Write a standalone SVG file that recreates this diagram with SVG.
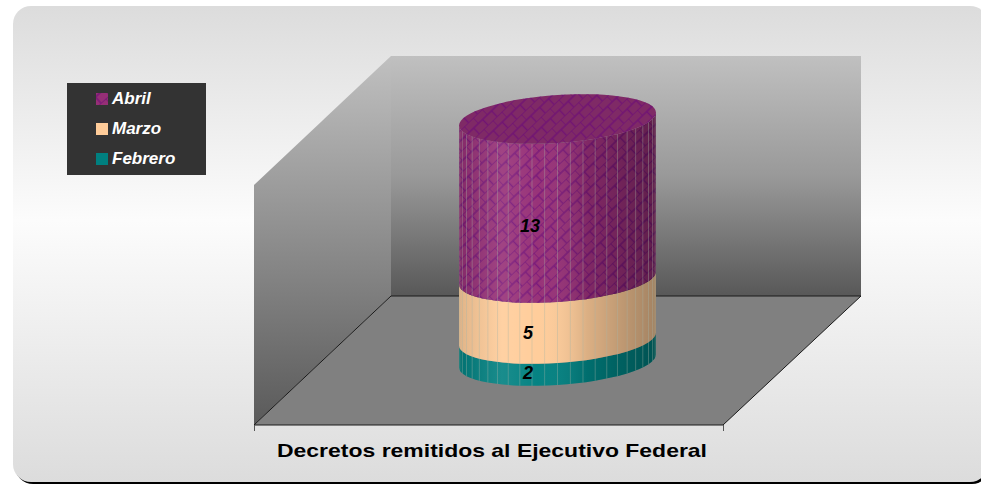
<svg xmlns="http://www.w3.org/2000/svg" width="981" height="485" viewBox="0 0 981 485">
<style>
.lg{font-family:"Liberation Sans",Arial,sans-serif;font-weight:bold;font-style:italic;font-size:17px;fill:#ffffff}
.val{font-family:"Liberation Sans",Arial,sans-serif;font-weight:bold;font-style:italic;font-size:18px;fill:#000000;text-anchor:middle}
.title{font-family:"Liberation Sans",Arial,sans-serif;font-weight:bold;font-size:19px;fill:#000000}
.edge{stroke:#1a1a1a;stroke-width:1;fill:none}
</style>
<defs>
<linearGradient id="bg" x1="0" y1="0" x2="0" y2="1">
<stop offset="0" stop-color="#dcdcdc"/>
<stop offset="0.45" stop-color="#fcfcfc"/>
<stop offset="1" stop-color="#dcdcdc"/>
</linearGradient>
<linearGradient id="wall" gradientUnits="userSpaceOnUse" x1="0" y1="56" x2="0" y2="296">
<stop offset="0" stop-color="#c0c0c0"/>
<stop offset="0.5" stop-color="#999999"/>
<stop offset="1" stop-color="#585858"/>
</linearGradient>
<linearGradient id="lwall" gradientUnits="userSpaceOnUse" x1="0" y1="56" x2="0" y2="425">
<stop offset="0" stop-color="#c0c0c0"/>
<stop offset="1" stop-color="#5a5a5a"/>
</linearGradient>
<linearGradient id="shade" gradientUnits="userSpaceOnUse" x1="459" y1="0" x2="656" y2="0">
<stop offset="0" stop-color="#000" stop-opacity="0.12"/>
<stop offset="0.22" stop-color="#fff" stop-opacity="0.1"/>
<stop offset="0.4" stop-color="#fff" stop-opacity="0.02"/>
<stop offset="0.65" stop-color="#000" stop-opacity="0.14"/>
<stop offset="1" stop-color="#000" stop-opacity="0.36"/>
</linearGradient>
<pattern id="brick" width="12" height="16" patternUnits="userSpaceOnUse" patternTransform="rotate(-42)">
<path d="M0 0H12M0 8H12M0 0V8M6 8V16" stroke="#6c0c78" stroke-width="1.4" stroke-opacity="0.75" fill="none"/>
</pattern>
<clipPath id="lowclip"><rect x="0" y="300" width="981" height="185"/></clipPath>
</defs>

<g id="background">
<rect x="15" y="8" width="975" height="476" rx="18" fill="#000" clip-path="url(#lowclip)"/>
<rect x="13" y="6" width="975" height="476" rx="18" fill="url(#bg)"/>
</g>

<g id="plot-area">
<polygon points="391,56 861,56 861,296 391,296" fill="url(#wall)"/>
<polygon points="254,185 391,56 391,296 254,425" fill="url(#lwall)"/>
<polygon points="254,425 391,296 861,296 723,425" fill="#808080"/>
<path class="edge" d="M254 425L391 296H861L723 425Z"/>
<path d="M254.5 425V431M723.5 425V431" stroke="#555" stroke-width="1"/>
</g>

<g id="cylinder" transform="matrix(1 -0.066 0 1 0 36.8)">
<g id="series-febrero">
<path d="M459 339V361A98.5 24 0 0 0 656 361V339A98.5 24 0 0 1 459 339Z" fill="#008080"/>
</g>
<g id="series-marzo">
<path d="M459 278V339A98.5 24 0 0 0 656 339V278A98.5 24 0 0 1 459 278Z" fill="#ffcc99"/>
</g>
<g id="series-abril">
<path d="M459 119V278A98.5 24 0 0 0 656 278V119A98.5 24 0 0 1 459 119Z" fill="#962f76"/>
<path d="M459 119V278A98.5 24 0 0 0 656 278V119A98.5 24 0 0 1 459 119Z" fill="url(#brick)"/>
</g>
<path d="M459 119V361A98.5 24 0 0 0 656 361V119A98.5 24 0 0 1 459 119Z" fill="url(#shade)"/>
<path d="M459.84 122.13v242M462.36 125.21v242M466.5 128.18v242M472.2 131v242M479.35 133.61v242M487.85 135.97v242M497.54 138.04v242M508.25 139.78v242M519.81 141.17v242M532.01 142.18v242M544.64 142.79v242M557.5 143v242M570.36 142.79v242M582.99 142.18v242M595.19 141.17v242M606.75 139.78v242M617.46 138.04v242M627.15 135.97v242M635.65 133.61v242M642.8 131v242M648.5 128.18v242M652.64 125.21v242M655.16 122.13v242" stroke="#a8b4a8" stroke-width="0.8" stroke-opacity="0.45" fill="none"/>
<g id="top-face">
<ellipse cx="557.5" cy="119" rx="98.5" ry="24" fill="#7f2a66"/>
<ellipse cx="557.5" cy="119" rx="98.5" ry="24" fill="url(#brick)"/>
</g>
</g>

<g id="data-labels">
<text class="val" x="530" y="232">13</text>
<text class="val" x="528" y="339">5</text>
<text class="val" x="528" y="379">2</text>
</g>

<g id="legend">
<rect x="67" y="83" width="139" height="92" fill="#333333"/>
<rect x="96" y="93" width="12" height="12" fill="#962f76"/>
<rect x="96" y="93" width="12" height="12" fill="url(#brick)"/>
<text class="lg" x="112" y="104">Abril</text>
<rect x="96" y="123" width="12" height="12" fill="#ffcc99"/>
<text class="lg" x="112" y="134">Marzo</text>
<rect x="96" y="153" width="12" height="12" fill="#008080"/>
<text class="lg" x="112" y="164">Febrero</text>
</g>

<g id="axis-title">
<text class="title" x="277" y="457" textLength="430" lengthAdjust="spacingAndGlyphs">Decretos remitidos al Ejecutivo Federal</text>
</g>
</svg>
